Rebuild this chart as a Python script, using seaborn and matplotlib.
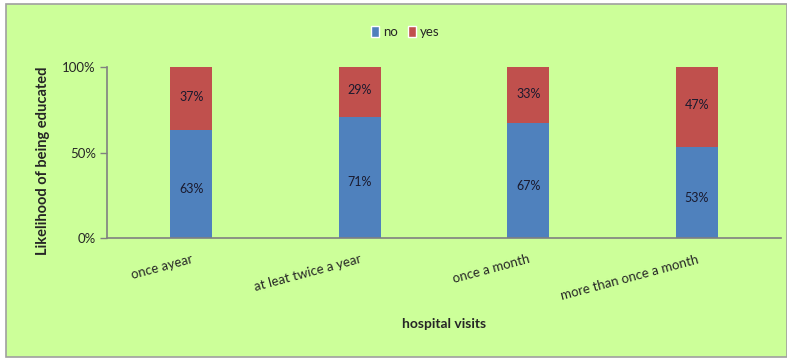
import matplotlib
matplotlib.use("Agg")
import matplotlib.pyplot as plt
import seaborn as sns
import pandas as pd
from matplotlib.patches import Rectangle, Patch

categories = ["once ayear", "at leat twice a year", "once a month", "more than once a month"]
no_pct = [63, 71, 67, 53]
yes_pct = [37, 29, 33, 47]
y_ticks = [0, 50, 100]
y_tick_labels = ["0%", "50%", "100%"]

BLUE = "#4F81BD"
RED = "#C0504D"
PANEL = "#CCFF99"

sns.set_theme(style="white")
plt.rcParams["font.family"] = ["Lato", "DejaVu Sans"]

df = pd.DataFrame({"visits": categories, "no": no_pct, "yes": yes_pct})
df["total"] = df["no"] + df["yes"]

fig = plt.figure(figsize=(7.87, 3.6), dpi=100)
fig.patch.set_facecolor("white")
fig.patches.append(Rectangle((6 / 787, 3 / 360), 1 - 6 / 787, 1 - 7 / 360,
                             transform=fig.transFigure, facecolor=PANEL,
                             edgecolor="#A0A0A0", linewidth=1.2, zorder=-10))

ax = fig.add_axes([107 / 787, 1 - 238 / 360, (781 - 107) / 787, (238 - 67) / 360])
ax.set_facecolor(PANEL)
ax.patch.set_alpha(0)

# stacked bars: full stack in red, "no" share drawn over it in blue
sns.barplot(data=df, x="visits", y="total", color=RED, width=0.25,
            saturation=1, ax=ax, order=categories, linewidth=0)
sns.barplot(data=df, x="visits", y="no", color=BLUE, width=0.25,
            saturation=1, ax=ax, order=categories, linewidth=0)

for i, (n, y) in enumerate(zip(df["no"], df["yes"])):
    ax.text(i, n / 2 - 3, f"{n}%", ha="center", va="center", fontsize=9, color="#1a1a2e")
    ax.text(i, n + y / 2 + 1, f"{y}%", ha="center", va="center", fontsize=9, color="#1a1a2e")

ax.set_xlim(-0.5, 3.5)
ax.set_ylim(0, 100)
ax.set_yticks(y_ticks)
ax.set_yticklabels(y_tick_labels, fontsize=9.5)
ax.set_xticks(range(len(categories)))
ax.set_xticklabels(categories, rotation=15, ha="right", va="top",
                   rotation_mode="anchor", fontsize=9.5)
ax.tick_params(axis="x", length=0, pad=11)
ax.tick_params(axis="y", length=5, width=1, color="#808080", direction="out", left=True, pad=3)

for side in ("top", "right"):
    ax.spines[side].set_visible(False)
for side in ("left", "bottom"):
    ax.spines[side].set_color("#808080")
    ax.spines[side].set_linewidth(1.2)

ax.set_xlabel("hospital visits", fontsize=10, fontweight="bold", labelpad=12)
ax.set_ylabel("Likelihood of being educated", fontsize=10.5, fontweight="bold")
ax.yaxis.set_label_coords(-0.085, 0.45)

handles = [Patch(facecolor=BLUE, label="no"), Patch(facecolor=RED, label="yes")]
fig.legend(handles=handles, loc="center", bbox_to_anchor=(0.515, 0.911), ncol=2,
           frameon=False, fontsize=9.5, handlelength=0.6, handleheight=0.9,
           handletextpad=0.3, columnspacing=0.8)

fig.savefig("out.png", dpi=100, facecolor=fig.get_facecolor())
